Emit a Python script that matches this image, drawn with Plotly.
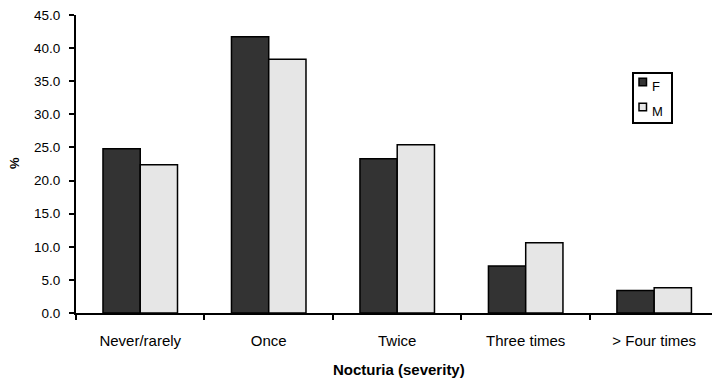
import plotly.graph_objects as go

# Nocturia severity by sex (%)
categories = ["Never/rarely", "Once", "Twice", "Three times", "> Four times"]
female = [24.8, 41.7, 23.3, 7.1, 3.4]
male = [22.4, 38.3, 25.4, 10.6, 3.8]
y_ticks = [0, 5, 10, 15, 20, 25, 30, 35, 40, 45]

W, H = 712, 378
L, R, T, B = 76, 0, 15, 65
FONT = "Liberation Sans, Arial, sans-serif"


def px_x(x):
    return (x - L) / (W - L - R)


def px_y(y):
    return 1 - (y - T) / (H - T - B)


fig = go.Figure()
fig.add_trace(go.Bar(x=categories, y=female, name="F",
                     marker=dict(color="#333333", line=dict(color="#000000", width=1.5)),
                     showlegend=False))
fig.add_trace(go.Bar(x=categories, y=male, name="M",
                     marker=dict(color="#e6e6e6", line=dict(color="#000000", width=1.5)),
                     showlegend=False))

fig.update_layout(
    width=W, height=H,
    margin=dict(l=L, r=R, t=T, b=B),
    paper_bgcolor="white", plot_bgcolor="white",
    barmode="group", bargap=0.42, bargroupgap=0,
    font=dict(family=FONT, size=13, color="#000000"),
)

fig.update_xaxes(
    type="category", range=[-0.5, 4.45],
    showline=True, linecolor="#000000", linewidth=2,
    ticks="outside", tickson="boundaries", ticklen=5, tickwidth=1.5, tickcolor="#000000",
    ticklabelstandoff=13, tickfont=dict(size=15),
    showgrid=False, zeroline=False,
)
fig.update_yaxes(
    range=[0, 45], tickvals=y_ticks, ticktext=[f"{v:.1f}" for v in y_ticks],
    showline=True, linecolor="#000000", linewidth=2,
    ticks="outside", ticklen=5, tickwidth=1.5, tickcolor="#000000",
    ticklabelstandoff=6, tickfont=dict(size=13.5),
    showgrid=False, zeroline=False,
)

# axis titles
fig.add_annotation(text="<b>Nocturia (severity)</b>", xref="paper", yref="paper",
                   x=px_x(398.5), y=px_y(369), showarrow=False,
                   font=dict(size=15), xanchor="center", yanchor="middle")
fig.add_annotation(text="<b>%</b>", xref="paper", yref="paper",
                   x=px_x(15), y=px_y(163), showarrow=False, textangle=-90,
                   font=dict(size=13), xanchor="center", yanchor="middle")

# legend box
fig.add_shape(type="rect", xref="paper", yref="paper",
              x0=px_x(633), x1=px_x(672), y0=px_y(73), y1=px_y(123),
              line=dict(color="#000000", width=2), fillcolor="white", layer="above")
for name, color, yc in [("F", "#333333", 82), ("M", "#e6e6e6", 107)]:
    fig.add_shape(type="rect", xref="paper", yref="paper",
                  x0=px_x(639), x1=px_x(646.5), y0=px_y(yc - 3.7), y1=px_y(yc + 3.7),
                  line=dict(color="#000000", width=1.5), fillcolor=color, layer="above")
    fig.add_annotation(text=name, xref="paper", yref="paper",
                       x=px_x(650), y=px_y(yc + 4), showarrow=False,
                       xanchor="left", yanchor="middle", font=dict(size=13))

fig.write_html("out.html")
